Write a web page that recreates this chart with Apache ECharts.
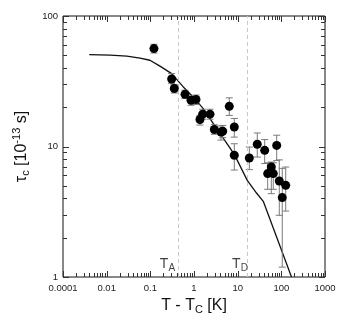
<!DOCTYPE html>
<html><head><meta charset="utf-8">
<script src="https://cdn.jsdelivr.net/npm/echarts@6/dist/echarts.min.js"></script>
<style>html,body{margin:0;padding:0;background:#fff}#c{width:342px;height:327px}</style>
</head><body><div id="c"></div>
<script>
// ---- data ----
const xTickLabels = ['0.0001', '0.01', '0.1', '1', '10', '100', '1000'];
const xMajor = [0.001, 0.01, 0.1, 1, 10, 100, 1000];
const yTickLabels = ['1', '10', '100'];
const yMajor = [1, 10, 100];

const curveX = [0.004, 0.012, 0.029, 0.058, 0.098, 0.166, 0.308, 0.569, 0.964, 1.63, 2.77, 3.94, 8.37, 16.6, 27, 38.6, 171];
const curveY = [50.6, 50.1, 49.3, 47.6, 45.8, 41.3, 36.2, 28.6, 23.9, 19.5, 15.0, 12.6, 8.7, 5.5, 4.4, 3.8, 1.0];

const pointX = [0.121, 0.308, 0.354, 0.622, 0.853, 1.11, 1.37, 1.58, 2.32, 2.92, 4.15, 4.54, 6.43, 8.37, 8.37, 18.5, 28.1, 41.6, 48.7, 58.9, 65.4, 78.3, 89.8, 105, 126];
const pointY = [56.3, 32.9, 27.8, 25.1, 22.6, 22.9, 16.1, 17.7, 17.7, 13.5, 12.9, 13.1, 20.3, 14.1, 8.57, 8.17, 10.4, 9.35, 6.2, 6.96, 6.2, 10.2, 5.44, 4.06, 5.04];
const errHigh = [60.7, 36.2, 29.8, 27.0, 24.3, 24.8, 17.3, 19.3, 19.3, 14.7, 14.4, 14.5, 23.6, 16.4, 10.5, 9.9, 12.7, 11.3, 7.5, 7.6, 7.5, 12.2, 7.9, 6.8, 6.96];
const errLow = [52.0, 30.3, 25.7, 23.3, 20.7, 21.0, 14.6, 16.2, 16.2, 12.4, 11.2, 11.7, 17.3, 11.8, 6.6, 6.65, 8.3, 7.4, 4.7, 4.35, 4.7, 7.8, 2.97, 1.19, 3.2];

const refNames = ['A', 'D'];
const refX = [0.443, 16.6];
const refLabelX = [0.247, 11.3];
const refLabelY = [1.26, 1.26];

// ---- build ----
const FONT = 'Liberation Sans, Arial, Helvetica, sans-serif';
const X_MIN = xMajor[0], X_MAX = xMajor[xMajor.length - 1];
const Y_MIN = yMajor[0], Y_MAX = yMajor[yMajor.length - 1];
const xMinor = [], yMinor = [];
for (let i = 0; i < xMajor.length - 1; i++) for (let m = 2; m <= 9; m++) xMinor.push(xMajor[i] * m);
for (let i = 0; i < yMajor.length - 1; i++) for (let m = 2; m <= 9; m++) yMinor.push(yMajor[i] * m);

function renderErr(params, api) {
  const x = api.value(0);
  const pLo = api.coord([x, api.value(1)]);
  const pHi = api.coord([x, api.value(2)]);
  const w = 3.5;
  const st = { stroke: '#7a7a7a', lineWidth: 1 };
  return { type: 'group', children: [
    { type: 'line', shape: { x1: pLo[0], y1: pLo[1], x2: pHi[0], y2: pHi[1] }, style: st },
    { type: 'line', shape: { x1: pLo[0] - w, y1: pLo[1], x2: pLo[0] + w, y2: pLo[1] }, style: st },
    { type: 'line', shape: { x1: pHi[0] - w, y1: pHi[1], x2: pHi[0] + w, y2: pHi[1] }, style: st }
  ]};
}

// tick marks on all four sides of the frame, pointing inward
const tickRows = [];
xMajor.forEach(v => tickRows.push([v, 0, 6]));
xMinor.forEach(v => tickRows.push([v, 0, 4]));
yMajor.forEach(v => tickRows.push([v, 1, 6]));
yMinor.forEach(v => tickRows.push([v, 1, 4]));

function renderTicks(params, api) {
  const row = tickRows[params.dataIndex];
  const v = row[0], len = row[2];
  const st = { stroke: '#333', lineWidth: 1 };
  if (row[1] === 0) {
    const pb = api.coord([v, Y_MIN]), pt = api.coord([v, Y_MAX]);
    const px = Math.round(pb[0]) + 0.5;
    return { type: 'group', children: [
      { type: 'line', shape: { x1: px, y1: pb[1], x2: px, y2: pb[1] - len }, style: st },
      { type: 'line', shape: { x1: px, y1: pt[1], x2: px, y2: pt[1] + len }, style: st }
    ]};
  }
  const pl = api.coord([X_MIN, v]), pr = api.coord([X_MAX, v]);
  const py = Math.round(pl[1]) + 0.5;
  return { type: 'group', children: [
    { type: 'line', shape: { x1: pl[0], y1: py, x2: pl[0] + len, y2: py }, style: st },
    { type: 'line', shape: { x1: pr[0], y1: py, x2: pr[0] - len, y2: py }, style: st }
  ]};
}

const chart = echarts.init(document.getElementById('c'), null, { renderer: 'canvas' });
chart.setOption({
  animation: false,
  backgroundColor: '#fff',
  textStyle: { fontFamily: FONT },
  grid: { left: 63, right: 17, top: 16, bottom: 50, show: true, borderColor: '#111', borderWidth: 1, backgroundColor: 'transparent' },
  xAxis: {
    type: 'log', logBase: 10, min: X_MIN, max: X_MAX, splitNumber: 6,
    axisLine: { show: false }, axisTick: { show: false }, splitLine: { show: false },
    axisLabel: { fontSize: 9.5, color: '#222', margin: 6, fontFamily: FONT,
      formatter: v => xTickLabels[Math.round(Math.log10(v)) + 3] },
    name: '{a|T - T}{s|C}{a| [K]}', nameLocation: 'middle', nameGap: 9,
    nameTextStyle: { fontFamily: FONT, rich: {
      a: { fontSize: 16, lineHeight: 20, color: '#111', fontFamily: FONT },
      s: { fontSize: 11, lineHeight: 8, verticalAlign: 'bottom', color: '#111', fontFamily: FONT }
    } }
  },
  yAxis: {
    type: 'log', logBase: 10, min: Y_MIN, max: Y_MAX, splitNumber: 2,
    axisLine: { show: false }, axisTick: { show: false }, splitLine: { show: false },
    axisLabel: { fontSize: 9.5, color: '#222', margin: 5, fontFamily: FONT,
      formatter: v => yTickLabels[Math.round(Math.log10(v))] },
    name: '{a|τ}{s|c}{a| [10}{p|-13}{a| s]}', nameLocation: 'middle', nameGap: 27,
    nameTextStyle: { fontFamily: FONT, rich: {
      a: { fontSize: 16, lineHeight: 20, color: '#111', fontFamily: FONT },
      s: { fontSize: 11, lineHeight: 8, verticalAlign: 'bottom', color: '#111', fontFamily: FONT },
      p: { fontSize: 11, lineHeight: 10, verticalAlign: 'top', color: '#111', fontFamily: FONT }
    } }
  },
  series: [
    {
      type: 'custom', renderItem: renderTicks, z: 9, silent: true,
      data: tickRows.map(r => r[1] === 0 ? [r[0], 5, 5] : [0.1, r[0], r[0]]),
      encode: { x: 0, y: [1, 2] }
    },
    {
      type: 'line', data: curveX.map((x, i) => [x, curveY[i]]), showSymbol: false, symbol: 'none',
      lineStyle: { color: '#111', width: 1.3 }, clip: true, z: 3,
      markLine: {
        silent: true, symbol: 'none', label: { show: false },
        lineStyle: { color: '#c8c8c8', type: [4, 3], width: 1 },
        data: refX.map(x => ({ xAxis: x }))
      }
    },
    {
      type: 'custom', renderItem: renderErr, data: pointX.map((x, i) => [x, errLow[i], errHigh[i]]),
      encode: { x: 0, y: [1, 2] }, z: 4
    },
    {
      type: 'scatter', data: pointX.map((x, i) => [x, pointY[i]]), symbol: 'circle', symbolSize: 9,
      itemStyle: { color: '#000', opacity: 1 }, z: 6
    },
    {
      type: 'scatter', data: refLabelX.map((x, i) => ({ value: [x, refLabelY[i]], name: refNames[i] })),
      symbolSize: 0, z: 7,
      label: { show: true, position: 'inside', formatter: p => '{t|T}{s|' + p.name + '}',
        rich: {
          t: { fontSize: 14, lineHeight: 18, color: '#111', fontFamily: FONT },
          s: { fontSize: 10, lineHeight: 6, verticalAlign: 'bottom', color: '#111', fontFamily: FONT }
        } }
    }
  ]
});
</script></body></html>
